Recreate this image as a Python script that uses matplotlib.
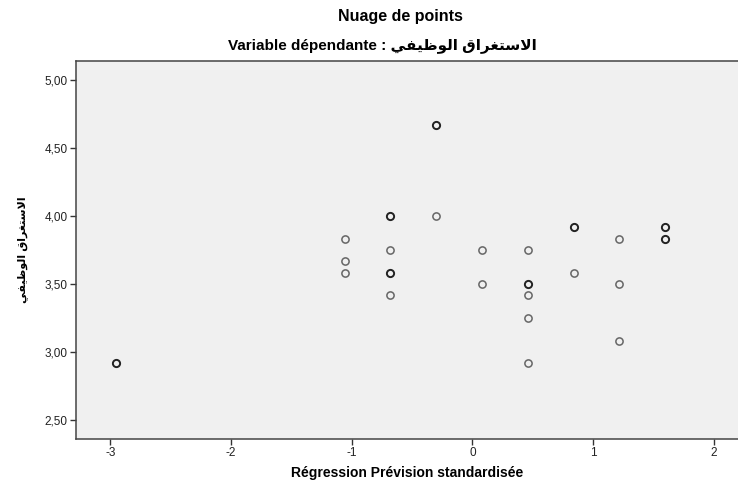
import matplotlib
matplotlib.use("Agg")
import matplotlib.pyplot as plt
from matplotlib.ticker import FuncFormatter, FixedLocator

plt.rcParams["font.family"] = ["Liberation Sans", "DejaVu Sans"]

# Arabic label, written in presentation forms (visual order) since matplotlib does not shape Arabic
arabic_var = "\uFEF2\uFED4\uFEF4\uFEC7\uFEEE\uFEDF\uFE8D \uFED5\uFE8D\uFEAE\uFED0\uFE98\uFEB3\uFEFB\uFE8D"

title = "Nuage de points"
subtitle = "Variable dépendante : " + arabic_var
xlabel = "Régression Prévision standardisée"

# standardized predicted value vs. observed value; count = overlapping cases
pred = [-0.30, -0.68, -0.30, -1.057, -0.68, 0.08, 0.461, 0.84, 1.218, -1.057,
        -1.057, -0.68, 0.84, 0.08, 0.461, 1.218, -0.68, 0.461, 0.461, 1.218,
        0.461, -2.952, 1.597, 1.597]
obs = [4.667, 4.000, 4.000, 3.833, 3.750, 3.750, 3.750, 3.917, 3.833, 3.667,
       3.583, 3.583, 3.583, 3.500, 3.500, 3.500, 3.417, 3.417, 3.250, 3.083,
       2.917, 2.917, 3.917, 3.833]
count = [2, 2, 1, 1, 1, 1, 1, 2, 1, 1,
         1, 2, 1, 1, 2, 1, 1, 1, 1, 1,
         1, 2, 2, 2]

x_ticks = [-3, -2, -1, 0, 1, 2]
y_ticks = [2.5, 3.0, 3.5, 4.0, 4.5, 5.0]

fig = plt.figure(figsize=(7.38, 4.87), dpi=100)
ax = fig.add_axes([0.1026, 0.0992, 0.8974, 0.7762])
ax.set_facecolor("#f0f0f0")

for c in sorted(set(count)):
    xs = [p for p, n in zip(pred, count) if n == c]
    ys = [o for o, n in zip(obs, count) if n == c]
    ax.plot(xs, ys, linestyle="none", marker="o", markersize=5.2,
            markerfacecolor="none",
            markeredgecolor="#222222" if c > 1 else "#666666",
            markeredgewidth=1.4 if c > 1 else 1.1)

ax.set_xlim(-3.286, 2.201)
ax.set_ylim(2.3625, 5.142)
ax.xaxis.set_major_locator(FixedLocator(x_ticks))
ax.yaxis.set_major_locator(FixedLocator(y_ticks))
ax.xaxis.set_major_formatter(FuncFormatter(lambda v, _: f"{v:.0f}"))
ax.yaxis.set_major_formatter(FuncFormatter(lambda v, _: f"{v:.2f}".replace(".", ",")))
ax.tick_params(direction="out", length=4.5, width=1.0, color="#333333",
               labelsize=8.5, labelcolor="#222222", pad=1.5)

for side in ("left", "bottom", "top"):
    ax.spines[side].set_color("#444444")
    ax.spines[side].set_linewidth(1.1)
ax.spines["right"].set_visible(False)

ax.set_xlabel(xlabel, fontsize=10, fontweight="bold", labelpad=5)
ax.set_ylabel(arabic_var, fontsize=8, fontweight="bold", labelpad=12)

fig.text(0.543, 1 - 17 / 487, title, ha="center", va="center",
         fontsize=11.5, fontweight="bold")
fig.text(0.518, 1 - 46 / 487, subtitle, ha="center", va="center",
         fontsize=11, fontweight="bold")

fig.savefig("out.png", dpi=100, facecolor="white")
